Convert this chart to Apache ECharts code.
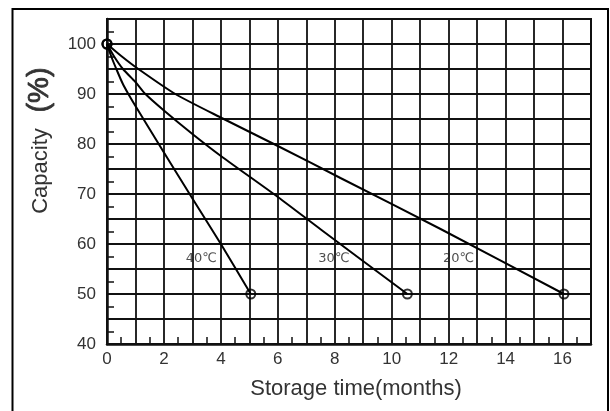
<!DOCTYPE html>
<html>
<head>
<meta charset="utf-8">
<script src="https://cdn.jsdelivr.net/npm/echarts@6/dist/echarts.min.js"></script>
<style>
html,body{margin:0;padding:0;background:#fff;}
#chart{width:610px;height:411px;}
</style>
</head>
<body>
<div id="chart"></div>
<script>
// Storage time (months) and capacity (%) for each temperature
const months40 = [0, 0.15, 0.35, 0.55, 0.75, 1, 2, 3, 4, 5.05];
const cap40    = [100, 97.5, 94.7, 92.1, 90, 87.6, 78.3, 69.1, 60, 50];
const months30 = [0, 0.25, 0.56, 1, 1.35, 2, 3, 4, 6, 7.51, 10.55];
const cap30    = [100, 97.5, 95, 92.4, 90, 86.7, 82, 77.6, 69.4, 62.9, 50];
const months20 = [0, 0.5, 1.1, 2.4, 4.1, 6, 8.2, 11.75, 16.05];
const cap20    = [100, 97.6, 95, 90, 85, 79.6, 73.2, 62.9, 50];

const curveNames = ['40℃', '30℃', '20℃'];
const labelMonths = [3.31, 7.97, 12.35];
const labelCaps = [57.1, 57.1, 57.1];

const xTickLabels = ['0', '2', '4', '6', '8', '10', '12', '14', '16'];
const yTickLabels = ['40', '50', '60', '70', '80', '90', '100'];

const FONT = "'Liberation Sans', Arial, Helvetica, sans-serif";
const zip = (a, b) => a.map((v, i) => [v, b[i]]);
const curves = [[months40, cap40], [months30, cap30], [months20, cap20]];

const endPoints = [];
curves.forEach(([m, c]) => {
  endPoints.push([m[0], c[0]]);
  endPoints.push([m[m.length - 1], c[c.length - 1]]);
});

const chart = echarts.init(document.getElementById('chart'), null, {renderer: 'canvas'});

const series = curves.map(([m, c], i) => ({
  name: curveNames[i],
  type: 'line',
  data: zip(m, c),
  showSymbol: false,
  symbol: 'none',
  smooth: 0.25,
  lineStyle: {color: '#000', width: 2},
  z: 5,
  silent: true
}));

series.push({
  type: 'scatter',
  data: endPoints,
  symbol: 'circle',
  symbolSize: 9,
  itemStyle: {color: 'rgba(0,0,0,0)', borderColor: '#000', borderWidth: 2},
  z: 6,
  silent: true
});

series.push({
  type: 'scatter',
  data: labelMonths.map((m, i) => ({value: [m, labelCaps[i]], name: curveNames[i]})),
  symbolSize: 0,
  label: {
    show: true,
    position: 'inside',
    formatter: p => p.name,
    fontSize: 13,
    color: '#222',
    fontFamily: "'DejaVu Sans', 'Liberation Sans', sans-serif"
  },
  z: 7,
  silent: true
});

const option = {
  animation: false,
  backgroundColor: '#fff',
  grid: {
    left: 107, right: 19, top: 19, bottom: 67,
    show: true, borderColor: '#111', borderWidth: 2, backgroundColor: 'transparent'
  },
  xAxis: {
    type: 'value',
    min: 0, max: 17, interval: 1,
    axisLine: {show: true, onZero: false, lineStyle: {color: '#111', width: 2.5}},
    axisTick: {show: false, inside: true},
    minorTick: {show: true, splitNumber: 2, length: 7, lineStyle: {color: '#111', width: 1.5}},
    splitLine: {show: true, lineStyle: {color: '#111', width: 1.8}},
    axisLabel: {
      margin: 7, fontSize: 17, color: '#333', fontFamily: FONT,
      formatter: v => xTickLabels.includes(String(v)) ? String(v) : ''
    }
  },
  yAxis: {
    type: 'value',
    min: 40, max: 105, interval: 5,
    axisLine: {show: true, onZero: false, lineStyle: {color: '#111', width: 2.5}},
    axisTick: {show: false, inside: true},
    minorTick: {show: true, splitNumber: 2, length: 7, lineStyle: {color: '#111', width: 1.5}},
    splitLine: {show: true, lineStyle: {color: '#111', width: 1.8}},
    axisLabel: {
      margin: 11, fontSize: 17, color: '#333', fontFamily: FONT,
      formatter: v => yTickLabels.includes(String(v)) ? String(v) : ''
    }
  },
  graphic: [
    {
      type: 'rect', silent: true, z: 100,
      shape: {x: 12.5, y: 9, width: 595.5, height: 430},
      style: {fill: 'none', stroke: '#000', lineWidth: 2}
    },
    {
      type: 'text', silent: true, x: 356, y: 389,
      style: {text: 'Storage time(months)', fontSize: 22, fill: '#333', fontFamily: FONT, align: 'center', verticalAlign: 'middle'}
    },
    {
      type: 'text', silent: true, x: 41, y: 171, rotation: Math.PI / 2,
      style: {text: 'Capacity', fontSize: 22, fill: '#333', fontFamily: FONT, align: 'center', verticalAlign: 'middle'}
    },
    {
      type: 'text', silent: true, x: 40, y: 90, rotation: Math.PI / 2,
      style: {text: '(%)', fontSize: 29, fill: '#333', stroke: '#333', lineWidth: 0.8, fontFamily: FONT, align: 'center', verticalAlign: 'middle'}
    }
  ],
  series: series
};

chart.setOption(option);
</script>
</body>
</html>
